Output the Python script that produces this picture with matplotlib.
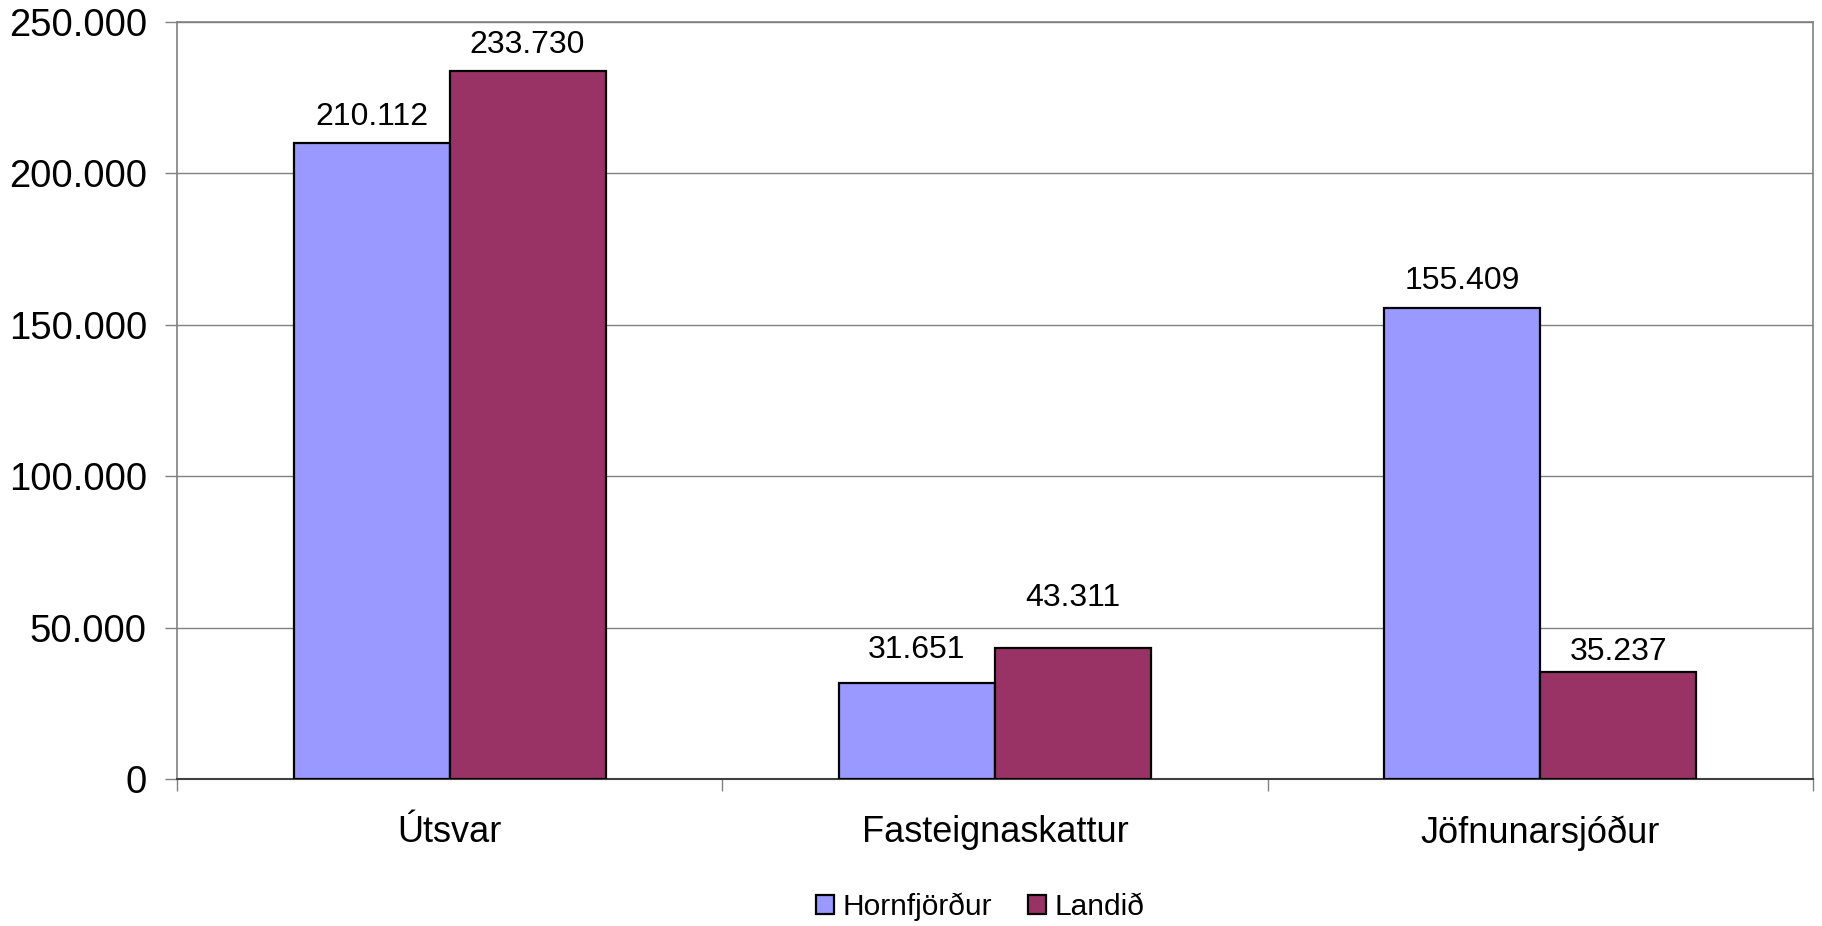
import matplotlib.pyplot as plt
from matplotlib.ticker import FuncFormatter, FixedLocator
import numpy as np

categories = ["Útsvar", "Fasteignaskattur", "Jöfnunarsjóður"]
series_names = ["Hornfjörður", "Landið"]
hornfjordur = [210112, 31651, 155409]
landid = [233730, 43311, 35237]
label_offsets_h = [13, 18, 14]  # points above bar
label_offsets_l = [13, 30, 9]
yticks = [0, 50000, 100000, 150000, 200000, 250000]

plt.rcParams["font.family"] = ["Liberation Sans", "DejaVu Sans"]

fig = plt.figure(figsize=(18.22, 9.26), dpi=100)
ax = fig.add_axes([0.0971, 0.1587, 0.8979, 0.8175])

x = np.arange(len(categories))
w = 0.286
colors = ["#9999FF", "#993366"]
bars_h = ax.bar(x - w / 2, hornfjordur, w, color=colors[0], edgecolor="black",
                linewidth=1.6, label=series_names[0], zorder=3)
bars_l = ax.bar(x + w / 2, landid, w, color=colors[1], edgecolor="black",
                linewidth=1.6, label=series_names[1], zorder=3)


def fmt(v, _=None):
    return f"{int(v):,}".replace(",", ".")


for bars, vals, offs in [(bars_h, hornfjordur, label_offsets_h), (bars_l, landid, label_offsets_l)]:
    for b, v, o in zip(bars, vals, offs):
        ax.annotate(fmt(v), (b.get_x() + b.get_width() / 2, v), xytext=(0, o),
                    textcoords="offset points", ha="center", va="baseline", fontsize=23)

ax.set_xlim(-0.5, 2.5)
ax.set_ylim(0, 250000)
ax.set_yticks(yticks)
ax.yaxis.set_major_formatter(FuncFormatter(fmt))
ax.tick_params(axis="y", length=8.6, width=1, color="#808080", pad=13, labelsize=27.5)
ax.grid(axis="y", color="#808080", linewidth=1, zorder=0)

ax.xaxis.set_major_locator(FixedLocator([-0.5, 0.5, 1.5, 2.5]))
ax.set_xticklabels([])
ax.xaxis.set_minor_locator(FixedLocator(x))
ax.set_xticklabels(categories, minor=True)
ax.tick_params(axis="x", which="major", length=8.6, width=1, color="#808080")
ax.tick_params(axis="x", which="minor", length=0, pad=26, labelsize=26)

for s in ["left", "right", "top"]:
    ax.spines[s].set_color("#808080")
    ax.spines[s].set_linewidth(1.2)
ax.spines["bottom"].set_color("#404040")
ax.spines["bottom"].set_linewidth(1.5)

fig.legend(handles=[bars_h, bars_l], labels=series_names, loc="center",
           bbox_to_anchor=(0.538, 0.0205), ncol=2, frameon=False, fontsize=21.5,
           handlelength=0.6, handleheight=0.6, handletextpad=0.3, columnspacing=1.2)

fig.savefig("out.png", dpi=100)
